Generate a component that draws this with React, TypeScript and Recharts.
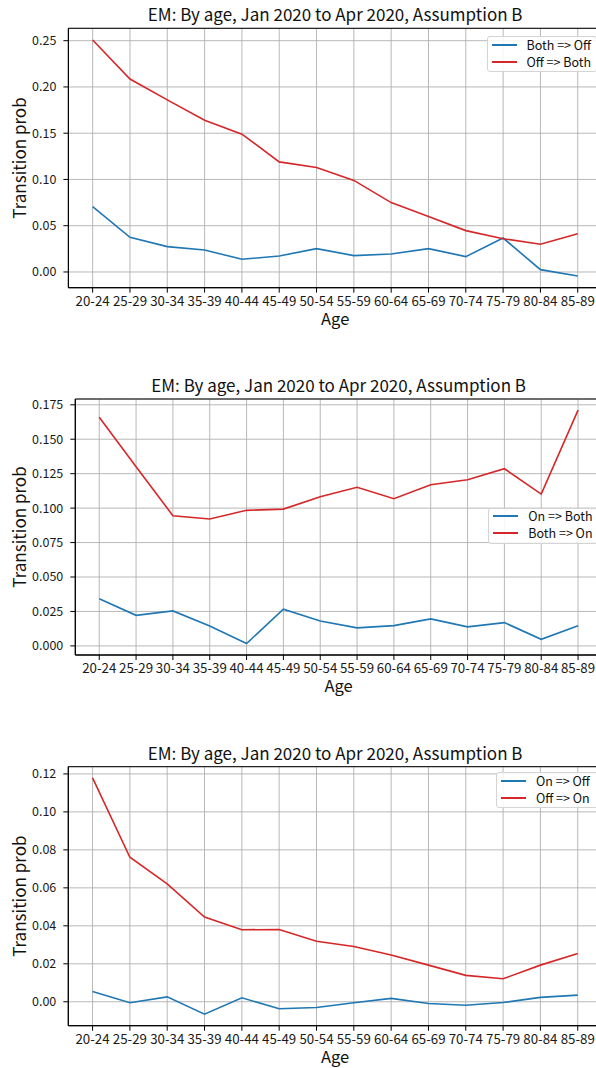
import React from 'react';
import { LineChart, Line, XAxis, YAxis, CartesianGrid, ReferenceArea } from 'recharts';

// age bands on the x axis
const ages = ['20-24', '25-29', '30-34', '35-39', '40-44', '45-49', '50-54', '55-59', '60-64', '65-69', '70-74', '75-79', '80-84', '85-89'];

// panel 1
const bothToOff = [0.0706, 0.0375, 0.0274, 0.0238, 0.0137, 0.0173, 0.0252, 0.0177, 0.0195, 0.0252, 0.0166, 0.0367, 0.0025, -0.0043];
const offToBoth = [0.2507, 0.2086, 0.186, 0.164, 0.149, 0.119, 0.113, 0.099, 0.075, 0.06, 0.0447, 0.036, 0.03, 0.0414];
const ticks1 = [0, 0.05, 0.1, 0.15, 0.2, 0.25];

// panel 2
const onToBoth = [0.0343, 0.0222, 0.0254, 0.0145, 0.0017, 0.0266, 0.0181, 0.0131, 0.0147, 0.0196, 0.0138, 0.0169, 0.0048, 0.0147];
const bothToOn = [0.166, 0.13, 0.0945, 0.0921, 0.0984, 0.0993, 0.1083, 0.1151, 0.1068, 0.117, 0.1206, 0.1286, 0.1102, 0.1711];
const ticks2 = [0, 0.025, 0.05, 0.075, 0.1, 0.125, 0.15, 0.175];

// panel 3
const onToOff = [0.0054, -0.0005, 0.0026, -0.0065, 0.0021, -0.0037, -0.003, -0.0005, 0.0018, -0.0009, -0.0018, -0.0004, 0.0023, 0.0035];
const offToOn = [0.1179, 0.0761, 0.0621, 0.0446, 0.0379, 0.0381, 0.0319, 0.0291, 0.0246, 0.0193, 0.0139, 0.0121, 0.0193, 0.0254];
const ticks3 = [0, 0.02, 0.04, 0.06, 0.08, 0.1, 0.12];

const TITLE = 'EM: By age, Jan 2020 to Apr 2020, Assumption B';
const FONT = '"Noto Sans CJK JP", "Noto Sans", sans-serif';
const BLUE = '#1f77b4';
const RED = '#d62728';
const CHART_W = 620;
const PLOT_RIGHT = 602;
const xTicks = ages.map((_, i) => i);

interface PanelProps {
  top: number;
  height: number;
  plotLeft: number;
  plotTop: number;
  plotBottom: number;
  domain: [number, number];
  yTicks: number[];
  digits: number;
  blue: number[];
  red: number[];
  blueName: string;
  redName: string;
  legendTop: number;
  legendLeft: number;
}

const Panel: React.FC<PanelProps> = (p) => {
  const data = ages.map((age, i) => ({ i, age, a: p.blue[i], b: p.red[i] }));
  const mTop = p.plotTop - p.top;
  const axisH = 40;
  const mBottom = p.height - (p.plotBottom - p.top) - axisH;

  return (
    <div style={{ position: 'absolute', left: 0, top: p.top, width: CHART_W, height: p.height }}>
      <div
        style={{
          position: 'absolute',
          left: p.plotLeft,
          width: PLOT_RIGHT - p.plotLeft,
          top: mTop - 24,
          height: 20,
          lineHeight: '20px',
          textAlign: 'center',
          fontSize: 17,
          color: '#111',
          whiteSpace: 'nowrap',
        }}
      >
        {TITLE}
      </div>
      <LineChart
        width={CHART_W}
        height={p.height}
        data={data}
        margin={{ top: mTop, right: CHART_W - PLOT_RIGHT, left: 0, bottom: mBottom }}
      >
        <CartesianGrid stroke="#b0b0b0" strokeWidth={0.9} />
        <XAxis
          type="number"
          dataKey="i"
          domain={[-0.65, 13.65]}
          ticks={xTicks}
          interval={0}
          allowDataOverflow
          tickFormatter={(v: number) => ages[v]}
          tickSize={5}
          tickMargin={4}
          height={axisH}
          stroke="#000"
          tick={{ fill: '#1a1a1a', fontSize: 13.3 }}
          label={{ value: 'Age', position: 'insideBottom', offset: 3, fill: '#111', fontSize: 16.5 }}
        />
        <YAxis
          type="number"
          domain={p.domain}
          ticks={p.yTicks}
          allowDataOverflow
          width={p.plotLeft}
          tickSize={5}
          tickMargin={7}
          stroke="#000"
          tick={{ fill: '#1a1a1a', fontSize: 12.5 }}
          tickFormatter={(v: number) => v.toFixed(p.digits)}
          label={{
            value: 'Transition prob',
            angle: -90,
            position: 'insideLeft',
            offset: 20,
            fill: '#111',
            fontSize: 17,
            style: { textAnchor: 'middle' },
          }}
        />
        <ReferenceArea
          x1={-0.65}
          x2={13.65}
          y1={p.domain[0]}
          y2={p.domain[1]}
          stroke="#000"
          strokeWidth={1}
          fill="none"
          fillOpacity={0}
        />
        <Line type="linear" dataKey="a" name={p.blueName} stroke={BLUE} strokeWidth={1.6} dot={false} isAnimationActive={false} />
        <Line type="linear" dataKey="b" name={p.redName} stroke={RED} strokeWidth={1.6} dot={false} isAnimationActive={false} />
      </LineChart>
      {/* legend box, drawn like matplotlib's upper/centre right legend */}
      <div
        style={{
          position: 'absolute',
          top: p.legendTop - p.top,
          left: p.legendLeft,
          width: 110,
          height: 36,
          boxSizing: 'border-box',
          border: '1px solid #d4d4d4',
          borderRadius: 3,
          background: 'rgba(255,255,255,0.85)',
          fontSize: 12.5,
          color: '#111',
        }}
      >
        {[
          { name: p.blueName, color: BLUE, y: 7.5 },
          { name: p.redName, color: RED, y: 24.5 },
        ].map((it) => (
          <div key={it.name} style={{ position: 'absolute', left: 4, top: it.y - 8, height: 16, display: 'flex', alignItems: 'center' }}>
            <span style={{ display: 'inline-block', width: 25, height: 2, background: it.color }} />
            <span style={{ marginLeft: 10, whiteSpace: 'nowrap', lineHeight: '16px' }}>{it.name}</span>
          </div>
        ))}
      </div>
    </div>
  );
};

export default function App() {
  return (
    <div
      style={{
        position: 'absolute',
        left: 0,
        top: 0,
        width: 596,
        height: 1068,
        overflow: 'hidden',
        background: '#fff',
        fontFamily: FONT,
      }}
    >
      <Panel
        top={0}
        height={370}
        plotLeft={68.4}
        plotTop={28.3}
        plotBottom={287.7}
        domain={[-0.017, 0.2634]}
        yTicks={ticks1}
        digits={2}
        blue={bothToOff}
        red={offToBoth}
        blueName="Both => Off"
        redName="Off => Both"
        legendTop={36.3}
        legendLeft={486.5}
      />
      <Panel
        top={370}
        height={370}
        plotLeft={75.3}
        plotTop={399}
        plotBottom={655}
        domain={[-0.0066, 0.1792]}
        yTicks={ticks2}
        digits={3}
        blue={onToBoth}
        red={bothToOn}
        blueName="On => Both"
        redName="Both => On"
        legendTop={507.7}
        legendLeft={488.3}
      />
      <Panel
        top={740}
        height={328}
        plotLeft={68.3}
        plotTop={766.7}
        plotBottom={1025.7}
        domain={[-0.0126, 0.1238]}
        yTicks={ticks3}
        digits={2}
        blue={onToOff}
        red={offToOn}
        blueName="On => Off"
        redName="Off => On"
        legendTop={772.3}
        legendLeft={496}
      />
    </div>
  );
}
